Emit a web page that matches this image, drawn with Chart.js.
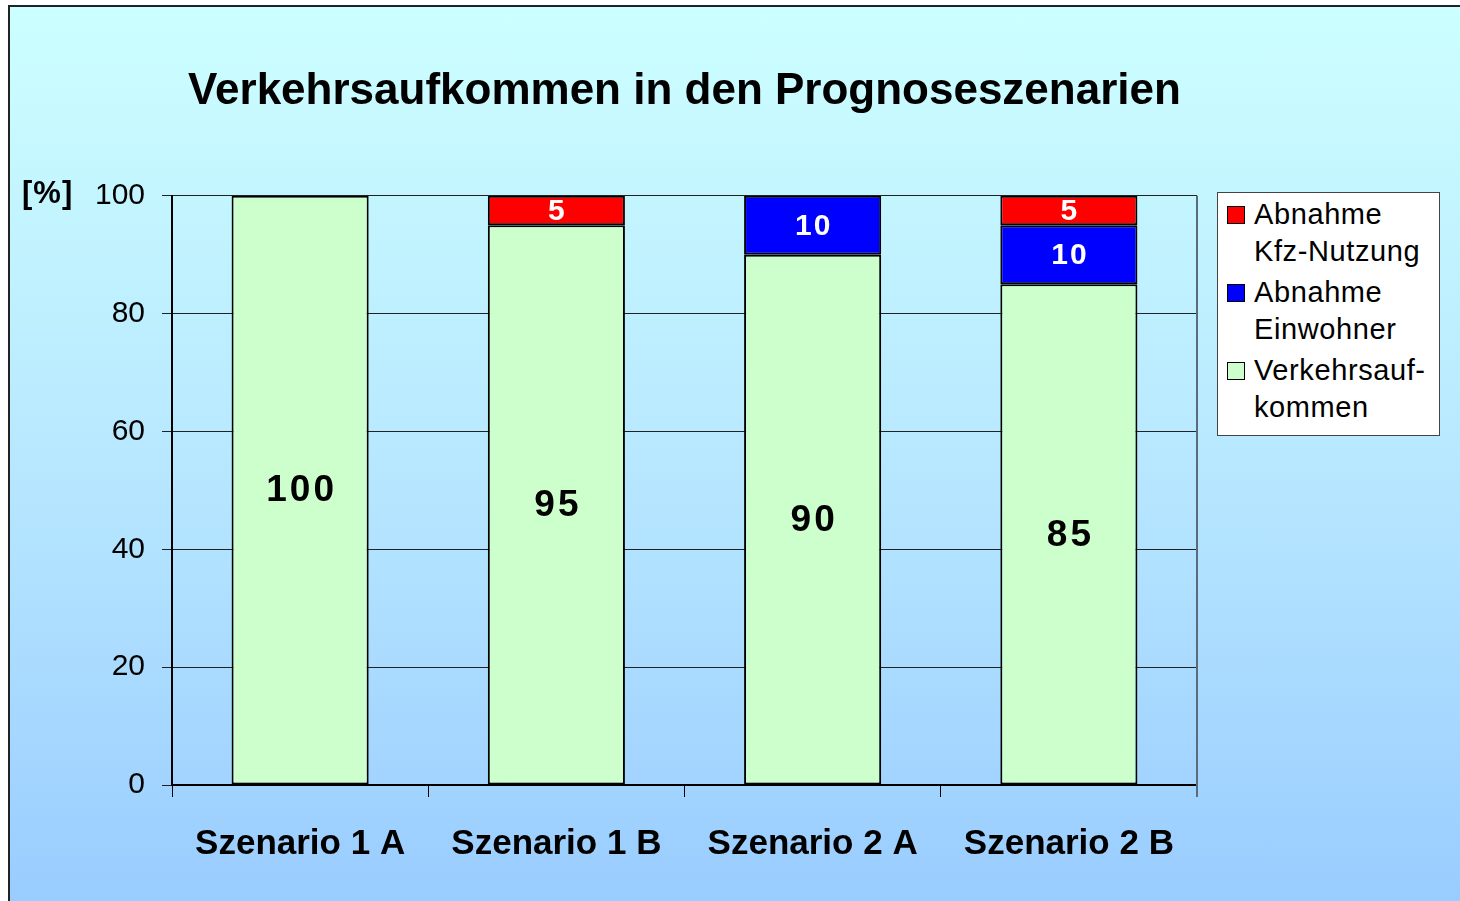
<!DOCTYPE html>
<html>
<head>
<meta charset="utf-8">
<script src="https://cdn.jsdelivr.net/npm/chart.js@4/dist/chart.umd.min.js"></script>
<style>
  html, body { margin: 0; padding: 0; background: #ffffff; overflow: hidden; }
  #frame {
    position: absolute; left: 8px; top: 5px; width: 1460px; height: 901px;
    border-left: 2px solid #222; border-top: 2px solid #222;
    background: linear-gradient(to bottom, #ccffff 0%, #b8e8ff 50%, #99ccff 100%);
  }
  #wrap { position: absolute; left: 0; top: 0; width: 1460px; height: 901px; }
  #legend {
    position: absolute; left: 1217px; top: 192px; width: 223px; height: 244px;
    background: #ffffff; border: 1px solid #444; box-sizing: border-box;
    font-family: "Liberation Sans", Arial, sans-serif; font-size: 29px; color: #000;
    padding-top: 3px; letter-spacing: 0.6px;
  }
  .item { position: relative; padding-left: 36px; line-height: 37px; margin-bottom: 4px; }
  .sw { position: absolute; left: 9px; top: 10px; width: 18px; height: 18px; border: 1.5px solid #000; box-sizing: border-box; }
</style>
</head>
<body>
<div id="frame"></div>
<div id="wrap"><canvas id="c" width="1460" height="901"></canvas></div>
<div id="legend"></div>
<script>
const categories = ["Szenario 1 A", "Szenario 1 B", "Szenario 2 A", "Szenario 2 B"];
const verkehrsaufkommen = [100, 95, 90, 85];
const abnahmeEinwohner = [null, null, 10, 10];
const abnahmeKfz = [null, 5, null, 5];
const seriesNames = [["Verkehrsauf-", "kommen"], ["Abnahme", "Einwohner"], ["Abnahme", "Kfz-Nutzung"]];
const seriesColors = ["#ccffcc", "#0000ff", "#ff0000"];
const labelColors = ["#000000", "#ffffff", "#ffffff"];
const yTicks = [0, 20, 40, 60, 80, 100];
const FONT = "'Liberation Sans', Arial, sans-serif";

const labelPlugin = {
  id: 'barLabels',
  afterDatasetsDraw(chart) {
    const ctx = chart.ctx;
    chart.data.datasets.forEach((ds, i) => {
      const meta = chart.getDatasetMeta(i);
      meta.data.forEach((el, j) => {
        const v = ds.data[j];
        if (v === null || v === undefined) return;
        ctx.save();
        ctx.fillStyle = labelColors[i];
        ctx.font = (i === 0 ? "bold 37px " : "bold 30px ") + FONT;
        const sp = i === 0 ? 3 : 2;
        if ('letterSpacing' in ctx) ctx.letterSpacing = sp + 'px';
        ctx.textAlign = 'center';
        ctx.textBaseline = 'middle';
        ctx.fillText(String(v), el.x + sp / 2, (el.y + el.base) / 2 + 1);
        ctx.restore();
      });
    });
  },
  afterDraw(chart) {
    const ctx = chart.ctx;
    const a = chart.chartArea;
    const y = chart.scales.y;
    ctx.save();
    ctx.strokeStyle = '#5a6b7a';
    ctx.lineWidth = 2;
    ctx.beginPath();
    ctx.moveTo(a.right, a.top);
    ctx.lineTo(a.right, a.bottom + 12);
    ctx.stroke();
    ctx.fillStyle = '#000';
    ctx.font = "bold 31px " + FONT;
    if ('letterSpacing' in ctx) ctx.letterSpacing = '1px';
    ctx.textAlign = 'left';
    ctx.textBaseline = 'middle';
    ctx.fillText('[%]', 22, y.getPixelForValue(yTicks[yTicks.length - 1]) - 1);
    ctx.restore();
  }
};

const chart = new Chart(document.getElementById('c'), {
  type: 'bar',
  data: {
    labels: categories,
    datasets: [
      { label: seriesNames[0].join(''), data: verkehrsaufkommen, backgroundColor: seriesColors[0] },
      { label: seriesNames[1].join(' '), data: abnahmeEinwohner, backgroundColor: seriesColors[1] },
      { label: seriesNames[2].join(' '), data: abnahmeKfz, backgroundColor: seriesColors[2] }
    ].map(d => Object.assign(d, { borderColor: '#000', borderWidth: 2, borderSkipped: false, categoryPercentage: 1, barPercentage: 0.535 }))
  },
  options: {
    responsive: false,
    animation: false,
    layout: { padding: { left: 0, right: 263, top: 0, bottom: 0 } },
    plugins: {
      legend: { display: false },
      tooltip: { enabled: false },
      title: {
        display: true, fullSize: false,
        text: 'Verkehrsaufkommen in den Prognoseszenarien',
        color: '#000',
        font: { family: FONT, size: 44, weight: 'bold', lineHeight: 1.2 },
        padding: { top: 65, bottom: 78 }
      }
    },
    scales: {
      x: {
        stacked: true,
        afterFit(s) { s.height = 116; },
        grid: { offset: true, drawOnChartArea: false, drawTicks: true, tickLength: 12, color: '#000', lineWidth: 1 },
        border: { display: true, color: '#000', width: 2 },
        ticks: { color: '#000', padding: 26, font: { family: FONT, size: 35, weight: 'bold' } }
      },
      y: {
        stacked: true,
        min: yTicks[0], max: yTicks[yTicks.length - 1],
        afterFit(s) { s.width = 172; },
        afterBuildTicks(s) { s.ticks = yTicks.map(v => ({ value: v })); },
        grid: { color: '#222', lineWidth: 1, tickLength: 10, drawTicks: true },
        border: { display: true, color: '#000', width: 2 },
        ticks: { color: '#000', padding: 17, font: { family: FONT, size: 30 } }
      }
    }
  },
  plugins: [labelPlugin]
});

const legend = document.getElementById('legend');
[2, 1, 0].forEach(i => {
  const it = document.createElement('div');
  it.className = 'item';
  const sw = document.createElement('span');
  sw.className = 'sw';
  sw.style.background = seriesColors[i];
  it.appendChild(sw);
  it.appendChild(document.createTextNode(seriesNames[i][0]));
  it.appendChild(document.createElement('br'));
  it.appendChild(document.createTextNode(seriesNames[i][1]));
  legend.appendChild(it);
});
</script>
</body>
</html>
